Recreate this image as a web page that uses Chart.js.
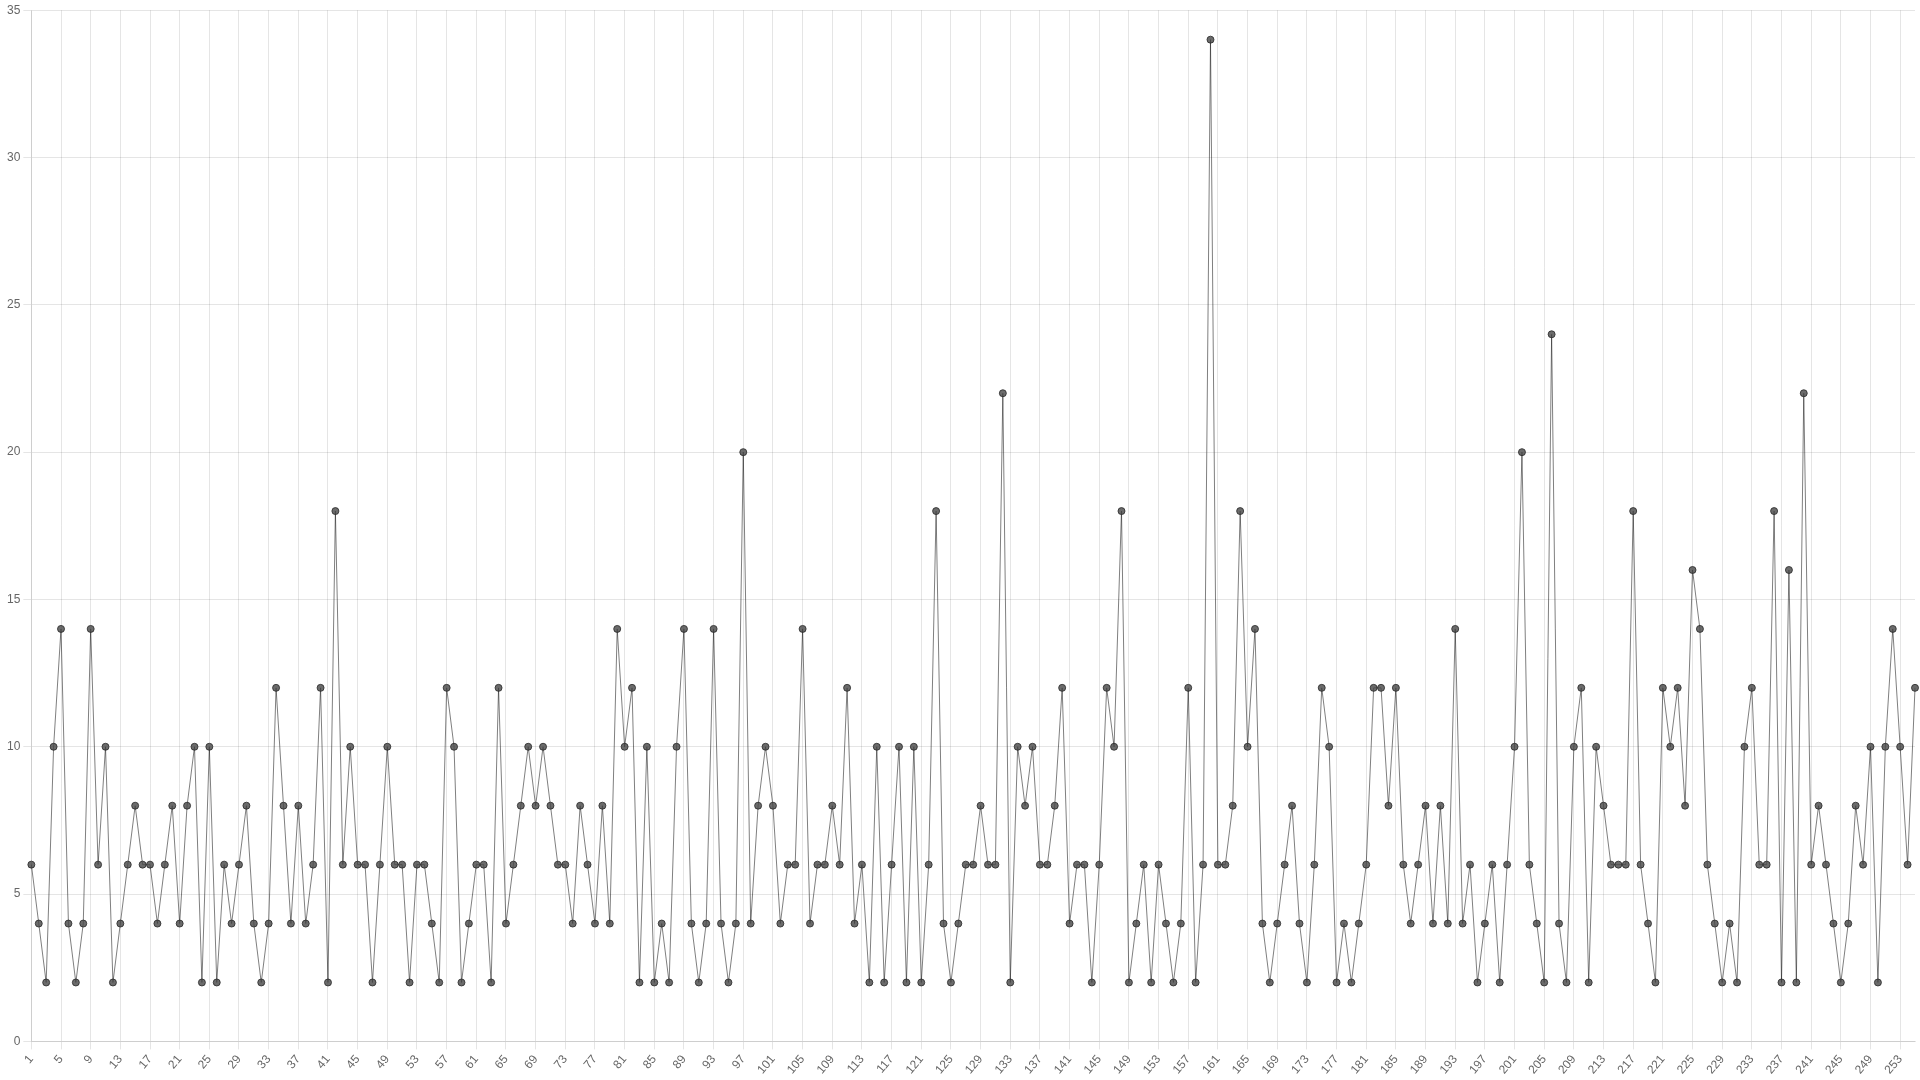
<!DOCTYPE html>
<html>
<head>
<meta charset="utf-8">
<script src="https://cdn.jsdelivr.net/npm/chart.js@4"></script>
<style>
  html, body { margin: 0; padding: 0; background: #fff; overflow: hidden; }
  #wrap { width: 1920px; height: 1080px; }
  canvas { display: block; }
</style>
</head>
<body>
<div id="wrap"><canvas id="c" width="1920" height="1080"></canvas></div>
<script>
// Series values (indices 1..255), in chunks
const values001_031 = [6,4,2,10,14,4,2,4,14,6,10,2,4,6,8,6,6,4,6,8,4,8,10,2,10,2,6,4,6,8,4];
const values032_063 = [2,4,12,8,4,8,4,6,12,2,18,6,10,6,6,2,6,10,6,6,2,6,6,4,2,12,10,2,4,6,6,2];
const values064_095 = [12,4,6,8,10,8,10,8,6,6,4,8,6,4,8,4,14,10,12,2,10,2,4,2,10,14,4,2,4,14,4,2];
const values096_127 = [4,20,4,8,10,8,4,6,6,14,4,6,6,8,6,12,4,6,2,10,2,6,10,2,10,2,6,18,4,2,4,6];
const values128_159 = [6,8,6,6,22,2,10,8,10,6,6,8,12,4,6,6,2,6,12,10,18,2,4,6,2,6,4,2,4,12,2,6];
const values160_191 = [34,6,6,8,18,10,14,4,2,4,6,8,4,2,6,12,10,2,4,2,4,6,12,12,8,12,6,4,6,8,4,8];
const values192_223 = [4,14,4,6,2,4,6,2,6,10,20,6,4,2,24,4,2,10,12,2,10,8,6,6,6,18,6,4,2,12,10,12];
const values224_255 = [8,16,14,6,4,2,4,2,10,12,6,6,18,2,16,2,22,6,8,6,4,2,4,8,6,10,2,10,14,10,6,12];

const seriesValues = [].concat(values001_031, values032_063, values064_095, values096_127,
                               values128_159, values160_191, values192_223, values224_255);

// Categories 1..N
const categories = [];
for (let i = 1; i <= seriesValues.length; i++) categories.push(String(i));

// Y tick values
const yTicks = [0, 5, 10, 15, 20, 25, 30, 35];
const xLabelEvery = 4;

const gridColor = 'rgba(0,0,0,0.1)';

new Chart(document.getElementById('c'), {
  type: 'line',
  data: {
    labels: categories,
    datasets: [{
      data: seriesValues,
      borderColor: 'rgba(0,0,0,0.5)',
      borderWidth: 1,
      pointRadius: 3.5,
      pointBackgroundColor: 'rgba(70,70,70,0.8)',
      pointBorderColor: 'rgba(40,40,40,0.8)',
      pointBorderWidth: 1,
      tension: 0,
      fill: false
    }]
  },
  options: {
    responsive: false,
    animation: false,
    layout: { padding: { top: 4, right: 4, left: 4, bottom: 0 } },
    plugins: { legend: { display: false }, tooltip: { enabled: false } },
    scales: {
      x: {
        afterFit: (scale) => { scale.paddingRight = 0; },
        grid: {
          color: (ctx) => (ctx.index % xLabelEvery === 0 ? gridColor : 'rgba(0,0,0,0)'),
          tickLength: 8
        },
        ticks: {
          autoSkip: false,
          minRotation: 50,
          maxRotation: 50,
          color: '#666',
          font: { size: 12 },
          callback: (val, idx) => (idx % xLabelEvery === 0 ? categories[idx] : '')
        }
      },
      y: {
        min: yTicks[0],
        max: yTicks[yTicks.length - 1],
        grid: { color: gridColor, tickLength: 8 },
        afterBuildTicks: (scale) => { scale.ticks = yTicks.map(v => ({ value: v })); },
        ticks: { color: '#666', font: { size: 12 } }
      }
    }
  }
});
</script>
</body>
</html>
